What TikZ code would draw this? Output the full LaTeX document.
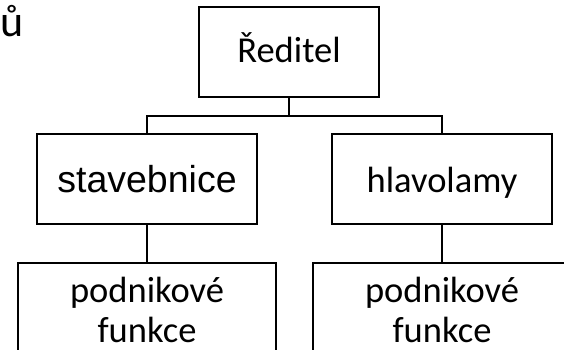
\documentclass[tikz,border=0pt]{standalone}
\usepackage{fontspec}
\setmainfont{Carlito}
\newfontfamily\arialf{Liberation Sans}
\begin{document}
\begin{tikzpicture}[x=1pt,y=-1pt,
  box/.style={draw=black, line width=2pt, rectangle, inner sep=0pt},
  conn/.style={draw=black, line width=1.5pt},
  txt/.style={inner sep=0pt, font=\fontsize{36.5}{41}\selectfont}
]
\fill[white] (0,0) rectangle (564,350);
\useasboundingbox (0,0) rectangle (564,350);
\clip (0,0) rectangle (564,350);

% title fragment
\node[anchor=base west, inner sep=0pt, font=\fontsize{44}{50}\selectfont] (frag) at (0,37) {ů};

% boxes
\node[box, minimum width=180pt, minimum height=90pt] (top) at (289,52) {};
\node[box, minimum width=220pt, minimum height=90pt] (ml) at (147,179) {};
\node[box, minimum width=220pt, minimum height=90pt] (mr) at (442,179) {};
\node[box, minimum width=258pt, minimum height=140pt, anchor=north] (bl) at (147,262) {};
\node[box, minimum width=258pt, minimum height=140pt, anchor=north] (br) at (442,262) {};

% texts
\node[txt, anchor=base] (ttop) at (289,63) {Ředitel};
\node[txt, anchor=base, font=\arialf\fontsize{37.5}{41}\selectfont] (tml) at (147,192) {stavebnice};
\node[txt, anchor=base] (tmr) at (442,192) {hlavolamy};
\node[txt, anchor=base] (tbl1) at (147,302) {podnikové};
\node[txt, anchor=base] (tbl2) at (147,342) {funkce};
\node[txt, anchor=base] (tbr1) at (442,302) {podnikové};
\node[txt, anchor=base] (tbr2) at (442,342) {funkce};

% connectors
\coordinate (j) at (289,116);
\draw[conn] (top.south) -- (j);
\draw[conn] (ml.north) |- (j) -| (mr.north);
\draw[conn] (ml.south) -- (bl.north);
\draw[conn] (mr.south) -- (br.north);
\end{tikzpicture}
\end{document}
